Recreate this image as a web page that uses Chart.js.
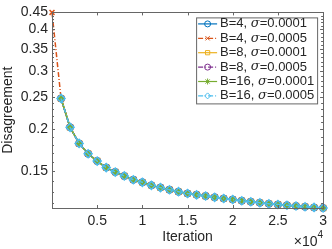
<!DOCTYPE html>
<html>
<head>
<meta charset="utf-8">
<script src="https://cdn.jsdelivr.net/npm/chart.js@4.4.0/dist/chart.umd.min.js"></script>
<style>
html, body { margin: 0; padding: 0; background: #fff; }
#wrap { width: 332px; height: 249px; position: relative; }
</style>
</head>
<body>
<div id="wrap"><canvas id="chart"></canvas></div>
<script>
// ---- data ----
const iterations = [1000, 2000, 3000, 4000, 5000, 6000, 7000, 8000, 9000, 10000,
    11000, 12000, 13000, 14000, 15000, 16000, 17000, 18000, 19000, 20000,
    21000, 22000, 23000, 24000, 25000, 26000, 27000, 28000, 29000, 30000];

// all six runs lie on top of each other in the picture
const disagreement = [0.248, 0.203, 0.1816, 0.169, 0.1607, 0.1536, 0.1489, 0.145, 0.1412, 0.1387,
    0.1358, 0.1337, 0.1318, 0.1300, 0.1284, 0.1272, 0.1262, 0.1250, 0.1240, 0.1231,
    0.1221, 0.1212, 0.1204, 0.1196, 0.1190, 0.1183, 0.1177, 0.1171, 0.1166, 0.1161];

// only B=4, sigma=0.0005 shows a point at iteration 0
const startIteration = 0;
const startValue = 0.45;

const batchSizes = ["4", "4", "8", "8", "16", "16"];
const sigmas = ["0.0001", "0.0005", "0.0001", "0.0005", "0.0001", "0.0005"];

const xTicks = [5000, 10000, 15000, 20000, 25000, 30000];
const yMajorTicks = [0.15, 0.2, 0.25, 0.3, 0.35, 0.4, 0.45];
const yMinorTicks = [0.12, 0.13, 0.14, 0.16, 0.17, 0.18, 0.19, 0.21, 0.22, 0.23, 0.24,
    0.26, 0.27, 0.28, 0.29, 0.31, 0.32, 0.33, 0.34, 0.36, 0.37, 0.38, 0.39,
    0.41, 0.42, 0.43, 0.44];

const xMin = 0, xMax = 30000;
const yMin = 0.1161, yMax = 0.45;

// ---- styles (MATLAB default colour order) ----
const colors = ["#0072BD", "#D95319", "#EDB120", "#7E2F8E", "#77AC30", "#4DBEEE"];
const markers = ["circle", "crossRot", "rect", "circle", "star", "rectRot"];
const markerSizes = [3, 3.5, 3.5, 3, 3.5, 4];
const dashes = [[], [5, 2, 1, 2], [], [5, 2, 1, 2], [], [5, 2, 1, 2]];

const axisColor = "#666666";
const textColor = "#262626";

Chart.defaults.font.family = "'Liberation Sans', Arial, Helvetica, sans-serif";
Chart.defaults.color = textColor;


function buildDatasets() {

    return colors.map((color, i) => {

        const points = iterations.map((x, k) => ({ x: x, y: disagreement[k] }));

        if (i === 1)
            points.unshift({ x: startIteration, y: startValue });

        return {
            label: "B=" + batchSizes[i] + ", σ=" + sigmas[i],
            data: points,
            borderColor: color,
            backgroundColor: "rgba(0,0,0,0)",
            borderWidth: 1.5,
            borderDash: dashes[i],
            pointStyle: markers[i],
            pointRadius: markerSizes[i],
            pointBorderWidth: 1.5,
            pointBorderColor: color,
            pointBackgroundColor: "rgba(0,0,0,0)",
            clip: false,
            order: colors.length - i
        };

    });

}


// ---- box, inward ticks, exponent and legend ----
const matlabAxes = {

    id: "matlabAxes",

    afterDatasetsDraw(chart) {

        const ctx = chart.ctx;
        const area = chart.chartArea;
        const xs = chart.scales.x;
        const ys = chart.scales.y;

        ctx.save();
        ctx.strokeStyle = axisColor;
        ctx.lineWidth = 1;
        ctx.setLineDash([]);

        ctx.strokeRect(Math.round(area.left) + 0.5, Math.round(area.top) + 0.5,
            Math.round(area.right - area.left), Math.round(area.bottom - area.top));

        ctx.beginPath();

        xTicks.forEach(v => {
            const px = Math.round(xs.getPixelForValue(v)) + 0.5;
            ctx.moveTo(px, area.bottom);
            ctx.lineTo(px, area.bottom - 3);
            ctx.moveTo(px, area.top);
            ctx.lineTo(px, area.top + 3);
        });

        yMajorTicks.concat(yMinorTicks).forEach(v => {
            const len = yMajorTicks.includes(v) ? 3 : 2;
            const py = Math.round(ys.getPixelForValue(v)) + 0.5;
            ctx.moveTo(area.left, py);
            ctx.lineTo(area.left + len, py);
            ctx.moveTo(area.right, py);
            ctx.lineTo(area.right - len, py);
        });

        ctx.stroke();

        // x10^4 exponent
        ctx.fillStyle = textColor;
        ctx.textBaseline = "alphabetic";
        ctx.textAlign = "left";
        ctx.font = "14px 'Liberation Sans', Arial, sans-serif";
        const baseW = ctx.measureText("×10").width;
        ctx.font = "10px 'Liberation Sans', Arial, sans-serif";
        const expW = ctx.measureText("4").width;
        const ex = area.right - baseW - expW;
        ctx.font = "14px 'Liberation Sans', Arial, sans-serif";
        ctx.fillText("×10", ex, 246);
        ctx.font = "10px 'Liberation Sans', Arial, sans-serif";
        ctx.fillText("4", ex + baseW, 238);

        drawLegend(chart);

        ctx.restore();

    }

};


function drawLegend(chart) {

    const ctx = chart.ctx;
    const area = chart.chartArea;

    const box = {
        left: area.right - 127,
        top: area.top + 5,
        width: 121,
        height: 86
    };

    ctx.fillStyle = "#ffffff";
    ctx.fillRect(box.left, box.top, box.width, box.height);
    ctx.strokeStyle = axisColor;
    ctx.lineWidth = 1;
    ctx.setLineDash([]);
    ctx.strokeRect(box.left + 0.5, box.top + 0.5, box.width, box.height);

    const rowH = 14.4;
    const normal = "13px 'Liberation Sans', Arial, sans-serif";
    const italic = "italic 13px 'DejaVu Serif', 'Liberation Serif', serif";

    chart.data.datasets.forEach((ds, i) => {

        const cy = box.top + 6.5 + rowH * i;

        ctx.strokeStyle = colors[i];
        ctx.lineWidth = 1.2;
        ctx.setLineDash(dashes[i]);
        ctx.beginPath();
        ctx.moveTo(box.left + 2, cy);
        ctx.lineTo(box.left + 21, cy);
        ctx.stroke();
        ctx.setLineDash([]);

        ctx.lineWidth = 1;
        ctx.fillStyle = "rgba(0,0,0,0)";
        Chart.helpers.drawPoint(ctx, {
            pointStyle: markers[i],
            radius: 3,
            borderWidth: 1,
            rotation: 0
        }, box.left + 11.5, cy);

        ctx.fillStyle = textColor;
        ctx.textBaseline = "middle";
        ctx.textAlign = "left";

        let tx = box.left + 24;
        const head = "B=" + batchSizes[i] + ", ";
        ctx.font = normal;
        ctx.fillText(head, tx, cy);
        tx += ctx.measureText(head).width;

        ctx.font = italic;
        ctx.fillText("σ", tx, cy);
        tx += ctx.measureText("σ").width;

        ctx.font = normal;
        ctx.fillText("=" + sigmas[i], tx, cy);

    });

}


// ---- chart ----
new Chart(document.getElementById("chart"), {

    type: "line",

    data: {
        datasets: buildDatasets()
    },

    options: {

        responsive: true,
        maintainAspectRatio: false,
        animation: false,

        layout: {
            padding: { top: 4, right: 4, left: 0, bottom: 0 }
        },

        plugins: {
            legend: { display: false },
            tooltip: { enabled: false }
        },

        scales: {

            x: {
                type: "linear",
                min: xMin,
                max: xMax,
                grid: { display: false, drawTicks: false },
                border: { display: false },
                afterBuildTicks: s => {
                    s.ticks = xTicks.map(v => ({ value: v }));
                },
                afterFit: s => {
                    s.height = 41;
                },
                ticks: {
                    autoSkip: false,
                    maxRotation: 0,
                    padding: 5,
                    color: textColor,
                    font: { size: 14 },
                    callback: v => String(v / 10000)
                },
                title: {
                    display: true,
                    text: "Iteration",
                    color: textColor,
                    font: { size: 14 },
                    padding: { top: 0, bottom: 3 }
                }
            },

            y: {
                type: "logarithmic",
                min: yMin,
                max: yMax,
                grid: { display: false, drawTicks: false },
                border: { display: false },
                afterBuildTicks: s => {
                    s.ticks = yMajorTicks.concat(yMinorTicks)
                        .sort((a, b) => a - b)
                        .map(v => ({ value: v }));
                },
                afterFit: s => {
                    s.width = 52;
                },
                ticks: {
                    autoSkip: false,
                    padding: 4,
                    color: textColor,
                    font: { size: 14 },
                    callback: v => yMajorTicks.includes(v) ? String(v) : ""
                },
                title: {
                    display: true,
                    text: "Disagreement",
                    color: textColor,
                    font: { size: 14 },
                    padding: { top: 0, bottom: 0 }
                }
            }

        }

    },

    plugins: [matlabAxes]

});
</script>
</body>
</html>
